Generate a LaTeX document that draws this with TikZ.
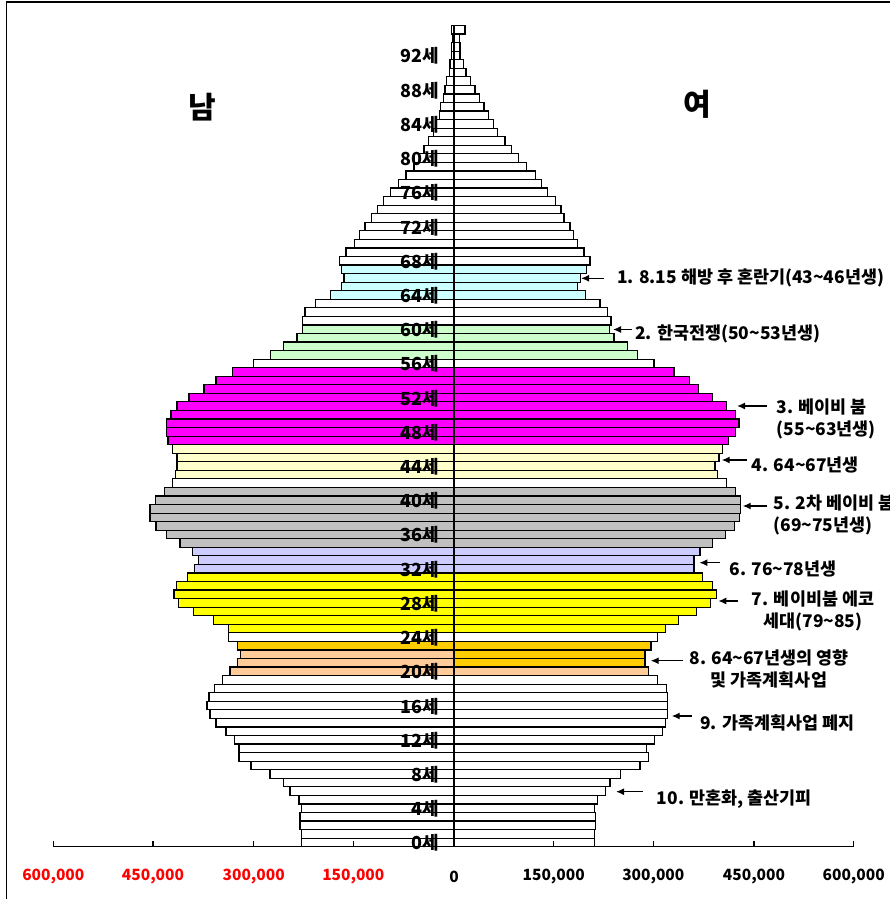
\documentclass[tikz,border=0pt]{standalone}
\usepackage{fontspec}
\setmainfont{Noto Sans CJK KR}
\usetikzlibrary{arrows.meta}
\definecolor{cW}{HTML}{FFFFFF}
\definecolor{cP}{HTML}{FFCC99}
\definecolor{cG}{HTML}{FFCC00}
\definecolor{cY}{HTML}{FFFF00}
\definecolor{cV}{HTML}{CCCCFF}
\definecolor{cS}{HTML}{C0C0C0}
\definecolor{cL}{HTML}{FFFFCC}
\definecolor{cM}{HTML}{FF00FF}
\definecolor{cN}{HTML}{CCFFCC}
\definecolor{cC}{HTML}{CCFFFF}
\begin{document}
\begin{tikzpicture}[x=1pt,y=-1pt,
  bar/.style={draw=black,line width=1.2pt},
  agelbl/.style={font=\bfseries\fontsize{18}{18}\selectfont,anchor=base east,inner sep=0pt},
  ticklbl/.style={font=\bfseries\fontsize{15.5}{16}\selectfont,inner sep=0pt},
  ann/.style={font=\bfseries\fontsize{17.4}{21.5}\selectfont,inner sep=0pt},
  sexlbl/.style={font=\bfseries\fontsize{30}{30}\selectfont,inner sep=0pt},
  arr/.style={-{Latex[length=8pt,width=7pt]},line width=1.4pt}]
\useasboundingbox (0,0) rectangle (890,899);
\fill[white] (0,0) rectangle (890,899);
% frame
\draw[line width=1.5pt] (6.7,905) -- (6.7,2) -- (895,2);
% bars
\foreach \n/\l/\r/\cl/\cr in {
0/152.3/140.3/cW/cW, 1/152.3/140.3/cW/cW, 2/154/141.3/cW/cW, 3/154/141.3/cW/cW,
4/152.3/140.3/cW/cW, 5/155/143.7/cW/cW, 6/164/151.3/cW/cW, 7/170.7/156/cW/cW,
8/184/166.7/cW/cW, 9/203/186/cW/cW, 10/215/194.7/cW/cW, 11/215/192.7/cW/cW,
12/219.3/200.3/cW/cW, 13/228/208.3/cW/cW, 14/238/211.3/cW/cW, 15/244/213.7/cW/cW,
16/247/213.7/cW/cW, 17/245/213.7/cW/cW, 18/239.3/212.7/cW/cW, 19/231.7/203.7/cW/cW,
20/224/194.3/cP/cP, 21/216.7/191/cP/cG, 22/213.7/191/cP/cG, 23/216.7/197/cG/cG,
24/225.7/203.7/cW/cW, 25/225.7/211.3/cY/cY, 26/240.7/224.7/cY/cY, 27/260.7/242.7/cY/cY,
28/275.3/256.7/cY/cY, 29/280/262.7/cY/cY, 30/277.3/258.3/cY/cY, 31/266.5/248.7/cY/cY,
32/259.3/240/cV/cV, 33/255.7/240/cV/cV, 34/261.7/246/cV/cV, 35/274/258.3/cS/cS,
36/287.3/271.7/cS/cS, 37/298/280.3/cS/cS, 38/304/285.3/cS/cS, 39/304/286.7/cS/cS,
40/298.3/286.7/cS/cS, 41/289.3/281.7/cS/cS, 42/281.3/272.7/cW/cW, 43/278.7/263.7/cL/cL,
44/277/261/cL/cL, 45/277/265/cL/cL, 46/281.3/268.3/cL/cL, 47/286/274.3/cM/cM,
48/287.3/281.7/cM/cM, 49/287.3/285/cM/cM, 50/283/281.7/cM/cM, 51/277/272.7/cM/cM,
52/265/258.3/cM/cM, 53/250/244.3/cM/cM, 54/238/235.3/cM/cM, 55/221.3/220/cM/cM,
56/200.3/200/cW/cW, 57/183.7/183.7/cN/cN, 58/170.3/173.7/cN/cN, 59/157/160/cN/cN,
60/151.7/155.7/cN/cN, 61/151.7/157/cW/cW, 62/149/153.7/cW/cW, 63/138.3/146/cW/cW,
64/123.3/131.3/cC/cC, 65/112.3/123.7/cC/cC, 66/110/126.7/cC/cC, 67/112.7/132.7/cC/cC,
68/114.7/136/cW/cW, 69/108/130/cW/cW, 70/99.3/123.7/cW/cW, 71/94.7/119.3/cW/cW,
72/89/116/cW/cW, 73/82.7/110/cW/cW, 74/76.7/107/cW/cW, 75/70.3/101.3/cW/cW,
76/63.3/93.7/cW/cW, 77/55.7/87.7/cW/cW, 78/48/81.3/cW/cW, 79/40/72.7/cW/cW,
80/40/64.7/cW/cW, 81/30/57.7/cW/cW, 82/25.7/51/cW/cW, 83/20.7/43.3/cW/cW,
84/17.3/39.3/cW/cW, 85/14.7/34.3/cW/cW, 86/13.3/30/cW/cW, 87/10.7/25.3/cW/cW,
88/9/21/cW/cW, 89/7.3/16.7/cW/cW, 90/4.7/12/cW/cW, 91/4/9.3/cW/cW,
92/2.3/6/cW/cW, 93/2.3/6/cW/cW, 94/1.3/5.3/cW/cW, 95/2.3/11/cW/cW}{
  \pgfmathsetmacro\ytop{846.7-8.554*(\n+1)}
  \pgfmathsetmacro\ybot{846.7-8.554*\n}
  \draw[bar,fill=\cl] (454-\l,\ytop) rectangle (454,\ybot);
  \draw[bar,fill=\cr] (454,\ytop) rectangle (454+\r,\ybot);
}
% centre line
\draw[line width=2pt] (454,25.5) -- (454,846.7);
% horizontal axis
\draw[line width=1.5pt] (53.3,846.7) -- (853.7,846.7);
\foreach \t in {53.3,153,253.7,353.3,553.7,653.3,754,853.7}
  \draw[line width=1.5pt] (\t,846.7) -- (\t,841);
% age labels
\foreach \a in {0,4,...,92}{
  \pgfmathsetmacro\ya{846.7-8.554*(\a+0.5)+7.5}
  \node[agelbl] (age\a) at (439,\ya) {{\a}세};
}
% tick labels
\node[ticklbl,text=red] (tm600) at (53.3,877) {600,000};
\node[ticklbl,text=red] (tm450) at (153,877) {450,000};
\node[ticklbl,text=red] (tm300) at (253.7,877) {300,000};
\node[ticklbl,text=red] (tm150) at (353.3,877) {150,000};
\node[ticklbl] (t0) at (454,877) {0};
\node[ticklbl] (tp150) at (553.7,877) {150,000};
\node[ticklbl] (tp300) at (653.3,877) {300,000};
\node[ticklbl] (tp450) at (754,877) {450,000};
\node[ticklbl] (tp600) at (853.7,877) {600,000};
% sex labels
\node[sexlbl] (male) at (202,107) {남};
\node[sexlbl] (female) at (697,104) {여};
% annotations
\node[ann,anchor=west] (n1) at (617,278) {1. 8.15 해방 후 혼란기(43\textasciitilde46년생)};
\coordinate (s1) at (604,278.3); \coordinate (e1) at (581,278.3);
\draw[arr] (s1) -- (e1);
\node[ann,anchor=west] (n2) at (635,334) {2. 한국전쟁(50\textasciitilde53년생)};
\coordinate (s2) at (632,329.5); \coordinate (e2) at (613,329.5);
\draw[arr] (s2) -- (e2);
\node[ann,anchor=west,align=left] (n3) at (776.7,419) {3. 베이비 붐\\(55\textasciitilde63년생)};
\coordinate (s3) at (767,406); \coordinate (e3) at (737,406);
\draw[arr] (s3) -- (e3);
\node[ann,anchor=west] (n4) at (751.7,465) {4. 64\textasciitilde67년생};
\coordinate (s4) at (747,460); \coordinate (e4) at (721.7,460);
\draw[arr] (s4) -- (e4);
\node[ann,anchor=west,align=left] (n5) at (773.3,515) {5. 2차 베이비 붐\\(69\textasciitilde75년생)};
\coordinate (s5) at (767.3,506); \coordinate (e5) at (742.7,506);
\draw[arr] (s5) -- (e5);
\node[ann,anchor=west] (n6) at (729.3,569.3) {6. 76\textasciitilde78년생};
\coordinate (s6) at (720,562.7); \coordinate (e6) at (699.3,562.7);
\draw[arr] (s6) -- (e6);
\node[ann,align=center] (n7) at (813,610.8) {7. 베이비붐 에코\\세대(79\textasciitilde85)};
\coordinate (s7) at (738.3,601); \coordinate (e7) at (718.3,601);
\draw[arr] (s7) -- (e7);
\node[ann,align=center] (n8) at (769,669) {8. 64\textasciitilde67년생의 영향\\및 가족계획사업};
\coordinate (s8) at (683.3,660.7); \coordinate (e8) at (650.7,660.7);
\draw[arr] (s8) -- (e8);
\node[ann,anchor=west] (n9) at (700,723.3) {9. 가족계획사업 폐지};
\coordinate (s9) at (691.7,716); \coordinate (e9) at (671.7,716);
\draw[arr] (s9) -- (e9);
\node[ann,anchor=west] (n10) at (656.7,799.3) {10. 만혼화, 출산기피};
\coordinate (s10) at (642.7,791.7); \coordinate (e10) at (616,791.7);
\draw[arr] (s10) -- (e10);
\end{tikzpicture}
\end{document}
